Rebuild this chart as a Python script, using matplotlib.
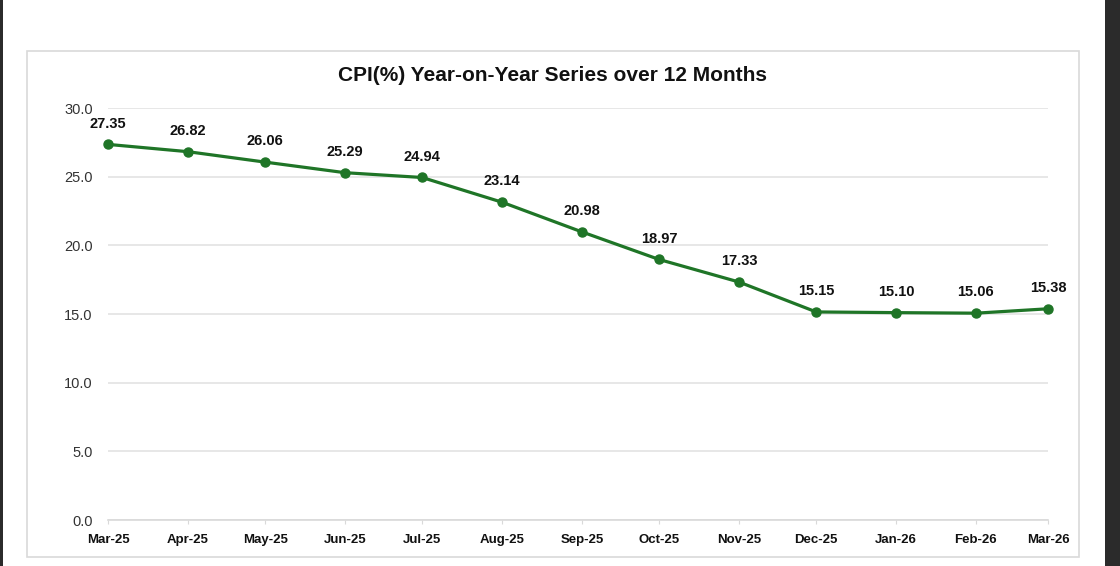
import matplotlib
matplotlib.use("Agg")
import matplotlib.pyplot as plt
import matplotlib.dates as mdates
from matplotlib.patches import Rectangle
import pandas as pd

plt.rcParams['font.family'] = ['Liberation Sans', 'DejaVu Sans']

months = ["Mar-25", "Apr-25", "May-25", "Jun-25", "Jul-25", "Aug-25", "Sep-25",
          "Oct-25", "Nov-25", "Dec-25", "Jan-26", "Feb-26", "Mar-26"]
cpi = [27.35, 26.82, 26.06, 25.29, 24.94, 23.14, 20.98, 18.97, 17.33, 15.15,
       15.10, 15.06, 15.38]
yticks = [0, 5, 10, 15, 20, 25, 30]
title = "CPI(%) Year-on-Year Series over 12 Months"

dates = pd.to_datetime(months, format="%b-%y")

W, H = 1120, 566
fig = plt.figure(figsize=(W / 100, H / 100), dpi=100)
fig.patch.set_facecolor("white")

# dark side strips and chart box
fig.add_artist(Rectangle((0, 0), 3 / W, 1, transform=fig.transFigure,
                         facecolor="#2b2b2b", edgecolor="none", zorder=-10))
fig.add_artist(Rectangle((1105 / W, 0), 15 / W, 1, transform=fig.transFigure,
                         facecolor="#2b2b2b", edgecolor="none", zorder=-10))
fig.add_artist(Rectangle((27 / W, 1 - 557 / H), (1079 - 27) / W, (557 - 51) / H,
                         transform=fig.transFigure, facecolor="white",
                         edgecolor="#d9d9d9", linewidth=1.2, zorder=-10))

ax = fig.add_axes([108 / W, 1 - 520 / H, (1048 - 108) / W, (520 - 108) / H])
ax.set_facecolor("none")
ax.plot(dates, cpi, color="#1f7527", linewidth=2.3, marker="o", markersize=6.5,
        clip_on=False, zorder=3)
for d, v in zip(dates, cpi):
    ax.annotate(f"{v:.2f}", (d, v), xytext=(0, 10), textcoords="offset points",
                ha="center", va="bottom", fontsize=10.5, fontweight="bold",
                color="#111111")

ax.set_xlim(dates[0], dates[-1])
ax.set_ylim(0, 30)
ax.set_yticks(yticks)
ax.set_yticklabels([f"{t:.1f}" for t in yticks])
ax.set_xticks(dates)
ax.set_xticklabels(months)
ax.grid(axis="y", color="#e3e3e3", linewidth=1.2)
ax.set_axisbelow(True)
for s in ["top", "right", "left"]:
    ax.spines[s].set_visible(False)
ax.spines["bottom"].set_color("#d9d9d9")
ax.spines["bottom"].set_linewidth(1.2)
ax.tick_params(axis="y", length=0, pad=11, labelsize=10.5, labelcolor="#333333")
ax.tick_params(axis="x", length=3, color="#d9d9d9", pad=7, labelsize=9.5,
               labelcolor="#111111")
for lbl in ax.get_xticklabels():
    lbl.set_fontweight("bold")

fig.text(553 / W, 1 - 75 / H, title, ha="center", va="center", fontsize=15,
         fontweight="bold", color="#111111")

fig.savefig("out.png", dpi=100)
